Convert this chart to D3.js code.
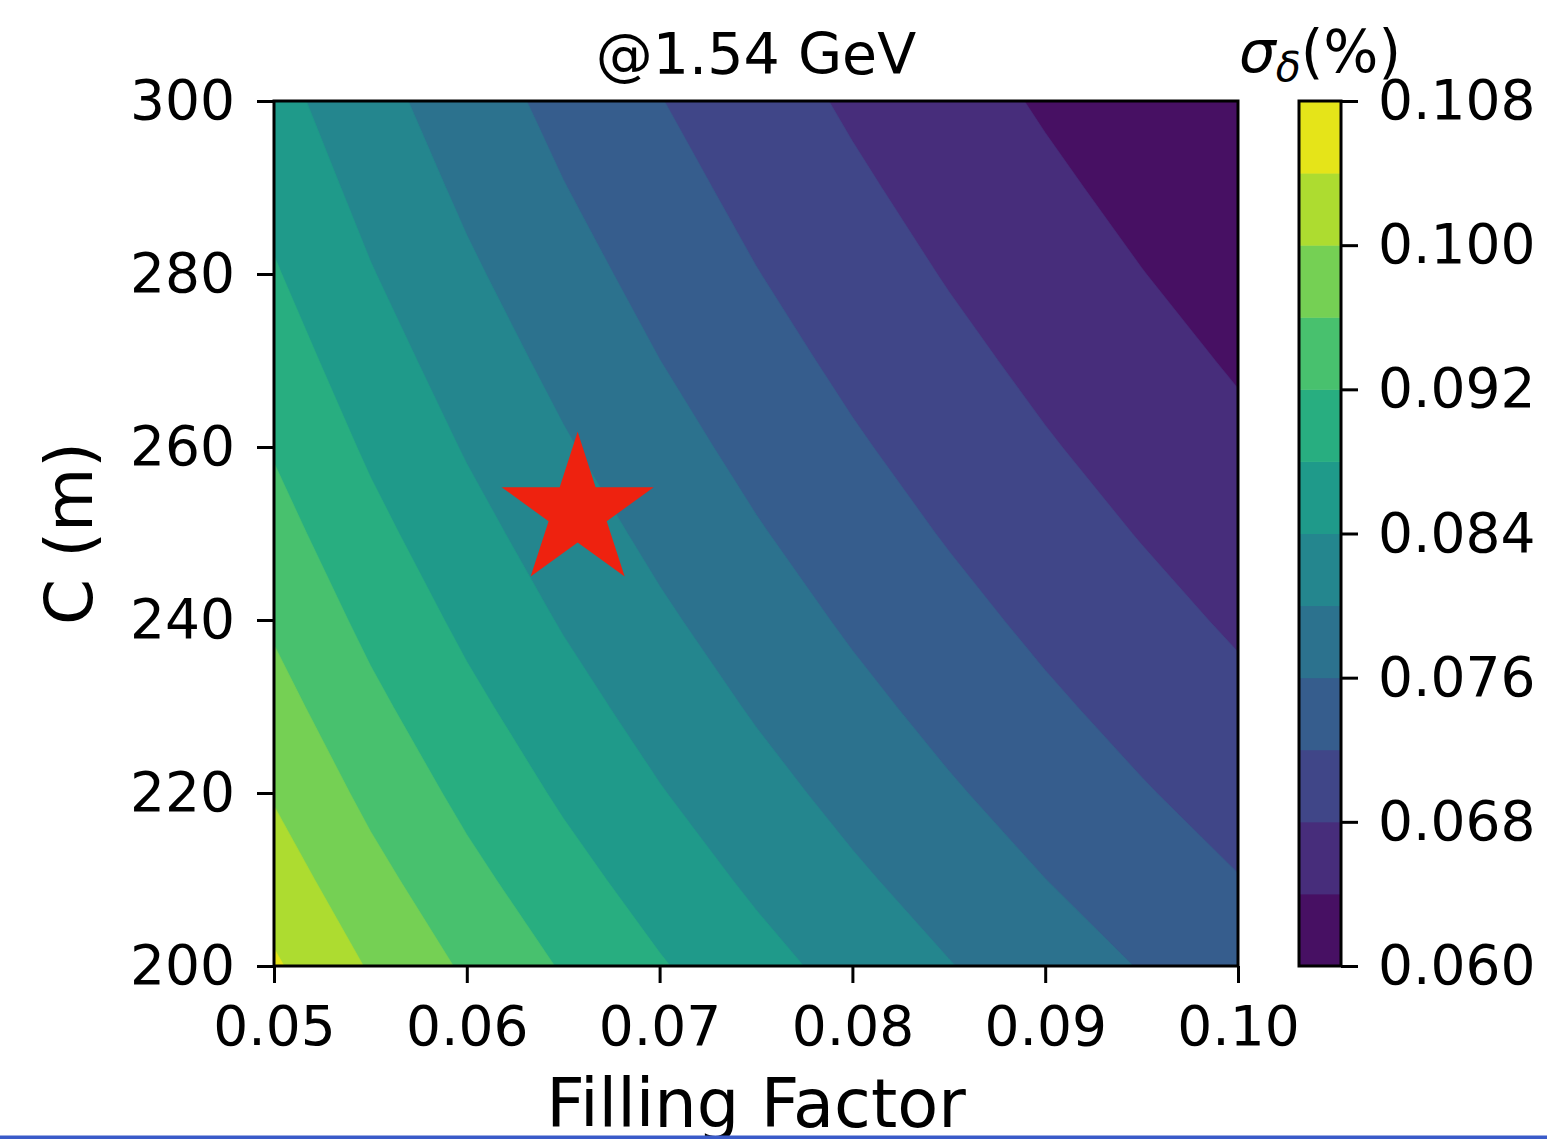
<!DOCTYPE html>
<html>
<head>
<meta charset="utf-8">
<script src="https://cdn.jsdelivr.net/npm/d3@7"></script>
<style>
body { margin: 0; background: #fff; }
svg { display: block; font-family: "DejaVu Sans", sans-serif; }
</style>
</head>
<body>
<script>
// grid: sigma_delta (%) vs filling factor (columns) and C (rows)
var fillingFactor = [0.050, 0.055, 0.060, 0.065, 0.070, 0.075, 0.080, 0.085, 0.090, 0.095, 0.100];
var circumference = [200, 210, 220, 230, 240, 250, 260, 270, 280, 290, 300];
var sigmaRows = [
  [0.10451, 0.09965, 0.09541, 0.09167, 0.08833, 0.08534, 0.08263, 0.08016, 0.07790, 0.07582, 0.07390],
  [0.10200, 0.09725, 0.09311, 0.08946, 0.08620, 0.08328, 0.08064, 0.07823, 0.07602, 0.07400, 0.07212],
  [0.09965, 0.09501, 0.09097, 0.08740, 0.08422, 0.08136, 0.07878, 0.07643, 0.07427, 0.07229, 0.07046],
  [0.09746, 0.09293, 0.08897, 0.08548, 0.08237, 0.07958, 0.07705, 0.07475, 0.07264, 0.07071, 0.06892],
  [0.09541, 0.09097, 0.08710, 0.08368, 0.08064, 0.07790, 0.07543, 0.07318, 0.07111, 0.06922, 0.06746],
  [0.09348, 0.08913, 0.08534, 0.08199, 0.07901, 0.07633, 0.07390, 0.07170, 0.06968, 0.06782, 0.06610],
  [0.09167, 0.08740, 0.08368, 0.08040, 0.07747, 0.07484, 0.07247, 0.07030, 0.06832, 0.06650, 0.06482],
  [0.08995, 0.08577, 0.08212, 0.07889, 0.07602, 0.07345, 0.07111, 0.06899, 0.06705, 0.06526, 0.06361],
  [0.08833, 0.08422, 0.08063, 0.07747, 0.07465, 0.07212, 0.06983, 0.06775, 0.06584, 0.06408, 0.06246],
  [0.08680, 0.08276, 0.07923, 0.07612, 0.07336, 0.07087, 0.06862, 0.06657, 0.06469, 0.06297, 0.06137],
  [0.08533, 0.08136, 0.07790, 0.07484, 0.07212, 0.06967, 0.06746, 0.06545, 0.06360, 0.06191, 0.06034]
];
var levels = [0.060, 0.064, 0.068, 0.072, 0.076, 0.080, 0.084, 0.088, 0.092, 0.096, 0.100, 0.104, 0.108];
var xTicks = [0.05, 0.06, 0.07, 0.08, 0.09, 0.10];
var yTicks = [200, 220, 240, 260, 280, 300];
var cbarTicks = [0.060, 0.068, 0.076, 0.084, 0.092, 0.100, 0.108];
var starPoint = [0.06575, 252.5];

var W = 1547, H = 1139;
var pLeft = 274, pRight = 1238, pTop = 101, pBottom = 966;

var svg = d3.select("body").append("svg")
    .attr("width", W)
    .attr("height", H)
    .attr("viewBox", "0 0 " + W + " " + H);

var x = d3.scaleLinear().domain([0.05, 0.10]).range([pLeft, pRight]);
var y = d3.scaleLinear().domain([200, 300]).range([pBottom, pTop]);

var nx = fillingFactor.length, ny = circumference.length;
// d3.contours puts sample i at grid coordinate i + 0.5
var gx = d3.scaleLinear().domain([0.5, nx - 0.5]).range([x(fillingFactor[0]), x(fillingFactor[nx - 1])]);
var gy = d3.scaleLinear().domain([0.5, ny - 0.5]).range([y(circumference[0]), y(circumference[ny - 1])]);

function bandColor(i){ return d3.interpolateViridis((i + 0.5) / (levels.length - 1)); }

svg.append("clipPath").attr("id", "plot-clip")
  .append("rect")
    .attr("x", pLeft).attr("y", pTop)
    .attr("width", pRight - pLeft).attr("height", pBottom - pTop);

var contours = d3.contours()
    .size([nx, ny])
    .thresholds(levels.slice(0, -1))
    (sigmaRows.flat());

// rings come back in grid units, map them straight to pixels
function ringPath(ring){
  return "M" + ring.map(function(p){ return gx(p[0]) + "," + gy(p[1]); }).join("L") + "Z";
}
function multiPath(d){
  return d.coordinates.map(function(poly){ return poly.map(ringPath).join(""); }).join("");
}

svg.append("g")
    .attr("clip-path", "url(#plot-clip)")
  .selectAll("path").data(contours)
  .enter().append("path")
    .attr("d", multiPath)
    .attr("fill-rule", "evenodd")
    .attr("fill", function(d, i){ return bandColor(i); })
    .attr("stroke", function(d, i){ return bandColor(i); })
    .attr("stroke-width", 0.6);

// red star
svg.append("path")
    .attr("transform", "translate(" + x(starPoint[0]) + "," + y(starPoint[1]) + ")")
    .attr("d", d3.symbol().type(d3.symbolStar).size(80 * 80 / 0.8908)())
    .attr("fill", "#ee220f");

// frame
svg.append("rect")
    .attr("x", pLeft).attr("y", pTop)
    .attr("width", pRight - pLeft).attr("height", pBottom - pTop)
    .attr("fill", "none").attr("stroke", "#000").attr("stroke-width", 3);

var xAxis = svg.append("g")
    .attr("transform", "translate(0," + pBottom + ")")
    .call(d3.axisBottom(x).tickValues(xTicks).tickFormat(d3.format(".2f"))
      .tickSize(17).tickSizeOuter(0).tickPadding(23));

var yAxis = svg.append("g")
    .attr("transform", "translate(" + pLeft + ",0)")
    .call(d3.axisLeft(y).tickValues(yTicks).tickFormat(d3.format("d"))
      .tickSize(17).tickSizeOuter(0).tickPadding(22));

// colorbar
var cbLeft = 1299, cbRight = 1341;
var cScale = d3.scaleLinear().domain([levels[0], levels[levels.length - 1]]).range([pBottom, pTop]);

svg.append("g").selectAll("rect").data(d3.range(levels.length - 1))
  .enter().append("rect")
    .attr("x", cbLeft)
    .attr("width", cbRight - cbLeft)
    .attr("y", function(i){ return cScale(levels[i + 1]); })
    .attr("height", function(i){ return cScale(levels[i]) - cScale(levels[i + 1]) + 0.5; })
    .attr("fill", function(i){ return bandColor(i); });

svg.append("rect")
    .attr("x", cbLeft).attr("y", pTop)
    .attr("width", cbRight - cbLeft).attr("height", pBottom - pTop)
    .attr("fill", "none").attr("stroke", "#000").attr("stroke-width", 3);

var cAxis = svg.append("g")
    .attr("transform", "translate(" + cbRight + ",0)")
    .call(d3.axisRight(cScale).tickValues(cbarTicks).tickFormat(d3.format(".3f"))
      .tickSize(17).tickSizeOuter(0).tickPadding(20));

[xAxis, yAxis, cAxis].forEach(function(g){
  g.select(".domain").remove();
  g.selectAll(".tick line").attr("stroke", "#000").attr("stroke-width", 3);
  g.selectAll(".tick text")
    .attr("fill", "#000")
    .style("font-family", "DejaVu Sans")
    .style("font-size", "55px");
});

// titles and labels
svg.append("text")
    .attr("x", (pLeft + pRight) / 2).attr("y", 74)
    .attr("text-anchor", "middle")
    .style("font-size", "57px")
    .text("@1.54 GeV");

svg.append("text")
    .attr("x", (pLeft + pRight) / 2).attr("y", 1127)
    .attr("text-anchor", "middle")
    .style("font-size", "67px")
    .text("Filling Factor");

svg.append("text")
    .attr("transform", "translate(92," + (pTop + pBottom) / 2 + ") rotate(-90)")
    .attr("text-anchor", "middle")
    .style("font-size", "66px")
    .text("C (m)");

var cbLabel = svg.append("text")
    .attr("x", (cbLeft + cbRight) / 2).attr("y", 72)
    .attr("text-anchor", "middle")
    .style("font-size", "58px");
cbLabel.append("tspan").style("font-style", "italic").text("σ");
cbLabel.append("tspan").attr("dy", 9).style("font-style", "italic").style("font-size", "41px").text("δ");
cbLabel.append("tspan").attr("dy", -9).text("(%)");

// blue strip along the bottom edge of the picture
svg.append("rect")
    .attr("x", 0).attr("y", 1135.5)
    .attr("width", W).attr("height", H - 1135.5)
    .attr("fill", "#3a5bc9");
</script>
</body>
</html>
